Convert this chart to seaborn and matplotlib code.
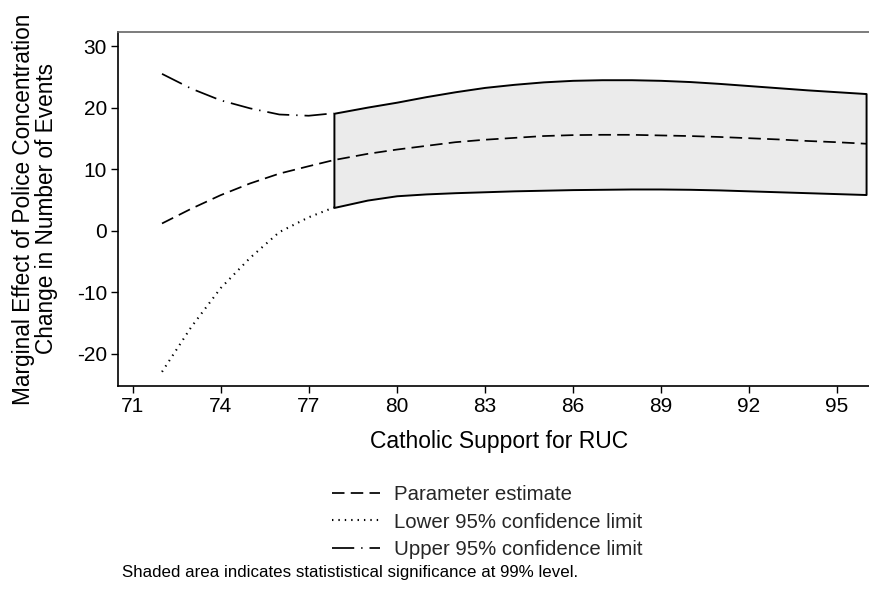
import matplotlib
matplotlib.use("Agg")
import matplotlib.pyplot as plt
import seaborn as sns
import numpy as np
import pandas as pd

# ---- data ----
support = [72, 73, 74, 75, 76, 77, 77.86, 79, 80, 81, 82, 83, 84, 85, 86,
           87, 88, 89, 90, 91, 92, 93, 94, 95, 96]
estimate = [1.2, 3.6, 5.8, 7.7, 9.3, 10.5, 11.5, 12.5, 13.2, 13.8, 14.4, 14.8,
            15.1, 15.4, 15.55, 15.6, 15.6, 15.5, 15.4, 15.25, 15.05, 14.85,
            14.6, 14.4, 14.15]
upper = [25.5, 23.1, 21.2, 19.9, 18.9, 18.7, 19.1, 20.1, 20.9, 21.8, 22.6,
         23.3, 23.8, 24.2, 24.45, 24.55, 24.55, 24.45, 24.25, 23.95, 23.6,
         23.25, 22.9, 22.6, 22.3]
lower = [-22.9, -15.6, -9.3, -4.4, -0.2, 2.2, 3.8, 5.0, 5.7, 6.0, 6.2, 6.35,
         6.5, 6.6, 6.7, 6.75, 6.8, 6.8, 6.75, 6.65, 6.5, 6.35, 6.2, 6.05, 5.9]
sig_start = 77.86
xticks = [71, 74, 77, 80, 83, 86, 89, 92, 95]
yticks = [-20, -10, 0, 10, 20, 30]
legend_labels = ["Parameter estimate", "Lower 95% confidence limit",
                 "Upper 95% confidence limit"]
note = "Shaded area indicates statististical significance at 99% level."

df = pd.DataFrame({"x": support, "est": estimate, "up": upper, "lo": lower})
ns = df[df["x"] <= sig_start]
sg = df[df["x"] >= sig_start]

sns.set_theme(style="ticks")
plt.rcParams["font.family"] = ["Liberation Sans", "DejaVu Sans"]
plt.rcParams["lines.scale_dashes"] = False
plt.rcParams["axes.unicode_minus"] = False

fig = plt.figure(figsize=(8.69, 5.99), dpi=100)
ax = fig.add_axes([118 / 869, 1 - 386 / 599, 751 / 869, (386 - 32) / 599])

lw = 1.25
ax.fill_between(sg["x"], sg["lo"], sg["up"], facecolor="#EBEBEB",
                edgecolor="black", linewidth=1.4, zorder=1)
sns.lineplot(data=ns, x="x", y="lo", ax=ax, color="black", lw=1.5,
             linestyle=(0, (1, 3.6)), sort=False, estimator=None, zorder=2)
sns.lineplot(data=ns, x="x", y="up", ax=ax, color="black", lw=lw,
             linestyle=(0, (16, 5, 1, 5)), sort=False, estimator=None, zorder=2)
sns.lineplot(data=df, x="x", y="est", ax=ax, color="black", lw=lw,
             linestyle=(0, (9, 4.5)), sort=False, estimator=None, zorder=3)

lines = ax.get_lines()
h_lo, h_up, h_est = lines[0], lines[1], lines[2]

ax.set_xlim(70.5, 96.1)
ax.set_ylim(-25.2, 32.3)
ax.set_xticks(xticks)
ax.set_yticks(yticks)
ax.tick_params(axis="both", labelsize=15, length=5, width=1, color="black",
               pad=3, labelcolor="black")
ax.set_xlabel("Catholic Support for RUC", fontsize=16.5, color="black")
ax.set_ylabel("Marginal Effect of Police Concentration\nChange in Number of Events",
              fontsize=16.3, color="black", linespacing=1.0)
ax.xaxis.set_label_coords((499 - 118) / 751, -0.125)
ax.yaxis.set_label_coords(-0.080, 0.5)

for s in ["left", "bottom"]:
    ax.spines[s].set_color("black")
    ax.spines[s].set_linewidth(1.2)
ax.spines["top"].set_visible(True)
ax.spines["top"].set_color("#666666")
ax.spines["top"].set_linewidth(1.2)
ax.spines["right"].set_visible(False)

fig.legend([h_est, h_lo, h_up], legend_labels, loc="center",
           bbox_to_anchor=(487.5 / 869, 1 - 522 / 599), frameon=False,
           fontsize=14.7, handlelength=2.35, handletextpad=0.69,
           labelspacing=0.42)

fig.text(122 / 869, 1 - 572 / 599, note, fontsize=12.2, va="center",
         ha="left", color="black")

fig.savefig("out.png", dpi=100)
